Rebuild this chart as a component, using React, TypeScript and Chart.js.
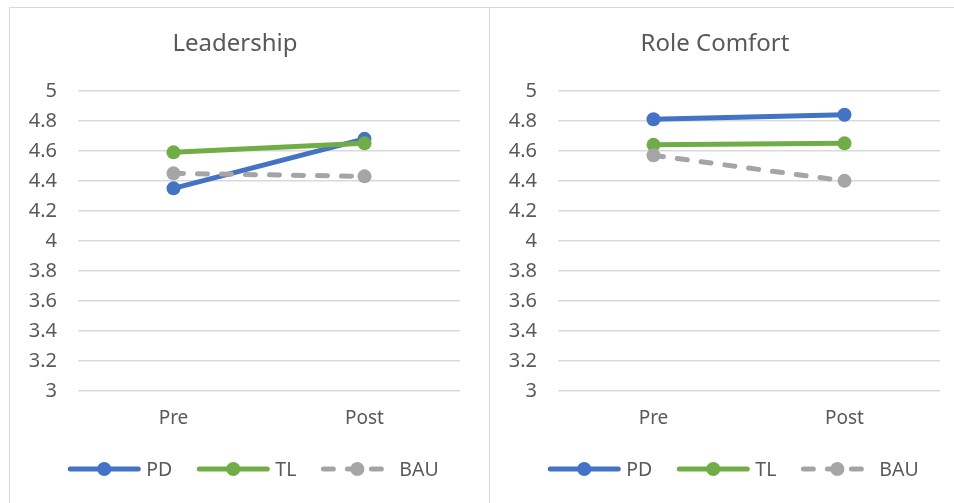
import React, { useEffect, useRef } from "react";
import { Chart, registerables } from "chart.js";
Chart.register(...registerables);

const categories = ["Pre", "Post"];
const seriesNames = ["PD", "TL", "BAU"];
const seriesColors = ["#4472C4", "#70AD47", "#A5A5A5"];
const seriesDashed = [false, false, true];

const leadershipPD = [4.35, 4.68];
const leadershipTL = [4.59, 4.65];
const leadershipBAU = [4.45, 4.43];

const roleComfortPD = [4.81, 4.84];
const roleComfortTL = [4.64, 4.65];
const roleComfortBAU = [4.57, 4.4];

const yMin = 3;
const yMax = 5;
const yStep = 0.2;

const FONT = "'Noto Sans', Lato, sans-serif";
const TEXT = "#595959";
const GRID = "#D9D9D9";
const DASH = [10, 14];

const legendPlugin = {
  id: "lineLegend",
  afterDraw(chart: any) {
    const ctx = chart.ctx as CanvasRenderingContext2D;
    const y = chart.chartArea.bottom + 78;
    const lineLen = 72;
    const gapText = 6;
    const gapItem = 25;
    ctx.save();
    ctx.font = `19.5px ${FONT}`;
    const items = chart.data.datasets.map((ds: any) => ({
      ds,
      w: ctx.measureText(ds.label).width,
    }));
    const total =
      items.reduce((s: number, it: any) => s + lineLen + gapText + it.w, 0) +
      gapItem * (items.length - 1);
    let x = chart.width / 2 - total / 2 + 4;
    items.forEach((it: any) => {
      const ds = it.ds;
      ctx.strokeStyle = ds.borderColor;
      ctx.lineWidth = ds.borderWidth;
      ctx.lineCap = "round";
      ctx.setLineDash(ds.borderDash || []);
      ctx.beginPath();
      ctx.moveTo(x + 2, y);
      ctx.lineTo(x + lineLen - 2, y);
      ctx.stroke();
      ctx.setLineDash([]);
      ctx.fillStyle = ds.pointBackgroundColor;
      ctx.beginPath();
      ctx.arc(x + lineLen / 2, y, ds.pointRadius, 0, Math.PI * 2);
      ctx.fill();
      ctx.fillStyle = TEXT;
      ctx.textBaseline = "middle";
      ctx.textAlign = "left";
      ctx.fillText(ds.label, x + lineLen + gapText, y + 1);
      x += lineLen + gapText + it.w + gapItem;
    });
    ctx.restore();
  },
};

function LineChart({ title, series }: { title: string; series: number[][] }) {
  const ref = useRef<HTMLCanvasElement | null>(null);
  useEffect(() => {
    if (!ref.current) return;
    const chart = new Chart(ref.current, {
      type: "line",
      data: {
        labels: categories,
        datasets: series.map((data, i) => ({
          label: seriesNames[i],
          data,
          borderColor: seriesColors[i],
          backgroundColor: seriesColors[i],
          pointBackgroundColor: seriesColors[i],
          pointBorderColor: seriesColors[i],
          pointBorderWidth: 0,
          pointRadius: 7,
          pointHoverRadius: 7,
          borderWidth: 5,
          borderCapStyle: "round",
          borderDash: seriesDashed[i] ? DASH : [],
          tension: 0,
          order: series.length - i,
        })),
      },
      options: {
        responsive: false,
        animation: false,
        events: [],
        layout: { padding: { left: 0, right: 29, top: 0, bottom: 0 } },
        plugins: {
          legend: { display: false },
          tooltip: { enabled: false },
          title: {
            display: true,
            text: title,
            color: TEXT,
            font: { family: FONT, size: 24, weight: "normal" },
            padding: { top: 22, bottom: 32 },
          },
        },
        scales: {
          x: {
            offset: true,
            grid: { display: false },
            border: { display: false },
            ticks: {
              color: TEXT,
              font: { family: FONT, size: 19 },
              padding: 8,
            },
            afterFit: (scale: any) => {
              scale.height = 112;
            },
          },
          y: {
            min: yMin,
            max: yMax,
            grid: { color: GRID, lineWidth: 1.5, drawTicks: false },
            border: { display: false },
            ticks: {
              stepSize: yStep,
              color: TEXT,
              font: { family: FONT, size: 20 },
              padding: 21,
              callback: (v: any) => String(Number(Number(v).toFixed(1))),
            },
            afterFit: (scale: any) => {
              scale.width = 68;
            },
          },
        },
      },
      plugins: [legendPlugin],
    } as any);
    return () => chart.destroy();
  }, [title, series]);
  return <canvas ref={ref} width={479} height={495} style={{ display: "block" }} />;
}

export default function App() {
  return (
    <div
      style={{
        position: "fixed",
        left: 0,
        top: 0,
        width: 954,
        height: 503,
        overflow: "hidden",
        background: "#fff",
      }}
    >
      <div
        style={{
          position: "absolute",
          left: 9,
          top: 7,
          width: 480,
          height: 496,
          borderLeft: `1px solid ${GRID}`,
          borderTop: `1px solid ${GRID}`,
          boxSizing: "border-box",
        }}
      />
      <div
        style={{
          position: "absolute",
          left: 489,
          top: 7,
          width: 470,
          height: 496,
          borderLeft: `1px solid ${GRID}`,
          borderTop: `1px solid ${GRID}`,
          boxSizing: "border-box",
        }}
      />
      <div style={{ position: "absolute", left: 10, top: 8 }}>
        <LineChart title="Leadership" series={[leadershipPD, leadershipTL, leadershipBAU]} />
      </div>
      <div style={{ position: "absolute", left: 490, top: 8 }}>
        <LineChart title="Role Comfort" series={[roleComfortPD, roleComfortTL, roleComfortBAU]} />
      </div>
    </div>
  );
}
